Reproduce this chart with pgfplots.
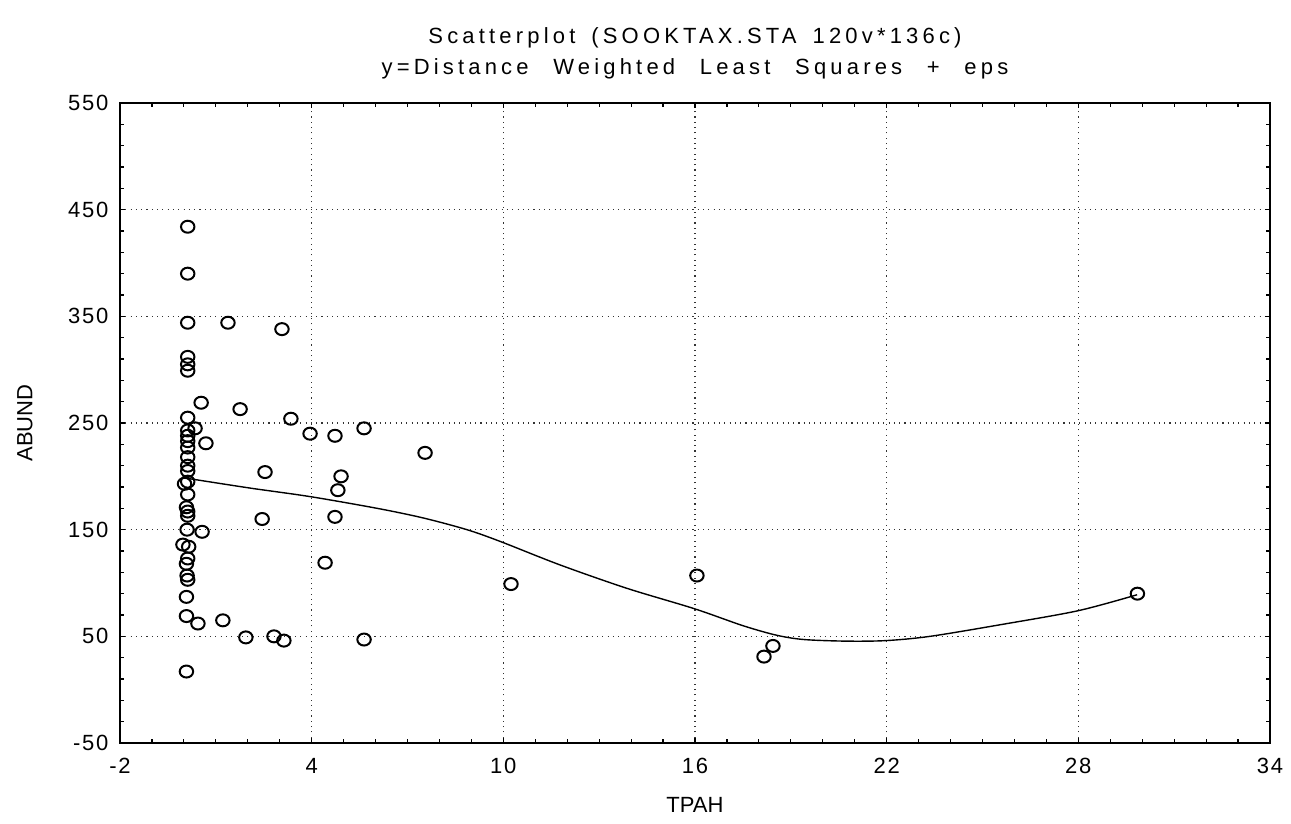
\documentclass[border=0pt]{standalone}
\usepackage{fontspec}
\setmainfont{Liberation Sans}
\newfontfamily\titlefont{Liberation Sans}[LetterSpace=19]
\newfontfamily\titlefontb{Liberation Sans}[LetterSpace=19, WordSpace=1.55]
\newfontfamily\tickfont{Liberation Sans}[LetterSpace=8]
\usepackage{pgfplots}
\pgfplotsset{compat=1.18}

\begin{document}
\begin{tikzpicture}
\begin{axis}[
  scale only axis,
  width=1150pt, height=640pt,
  xmin=-2, xmax=34, ymin=-50, ymax=550,
  xtick={-2,4,10,16,22,28,34},
  xticklabels={-2,4,10,16,22,28,34},
  ytick={-50,50,150,250,350,450,550},
  yticklabels={-50,50,150,250,350,450,550},
  minor x tick num=5,
  minor y tick num=4,
  tick align=inside,
  major tick length=5pt,
  minor tick length=4pt,
  tick style={black, line width=1.2pt},
  axis line style={black, line width=1.6pt},
  grid=major,
  major grid style={black!80, line width=1.1pt, dash pattern=on 1.1pt off 4.2pt},
  ticklabel style={font=\tickfont\fontsize{22}{26}\selectfont},
  yticklabel style={xshift=-8pt},
  xticklabel style={yshift=-12pt},
  xlabel={TPAH},
  ylabel={ABUND},
  label style={font=\fontsize{22}{26}\selectfont},
  xlabel style={at={(axis description cs:0.5,-0.0969)}, anchor=center},
  ylabel style={at={(axis description cs:-0.0826,0.5)}, anchor=center},
  clip=false,
]
% fitted distance weighted least squares curve
\addplot[black, line width=1.4pt, smooth, tension=0.5] coordinates {
 (0.13,198) (2.07,189) (3.95,181) (6.05,170) (7.49,161) (8.86,150)
 (9.90,139) (11.77,117) (13.87,95) (15.97,76) (17.50,60) (18.56,51)
 (19.41,47) (20.73,45.5) (21.98,46) (23.36,50) (25.58,61) (27.99,74)
 (29.84,89)
};
% observed cases
\addplot[only marks, mark=o, mark size=6pt,
  mark options={black, line width=2pt, xscale=1.12}] coordinates {
 (0.12,434) (0.12,390) (0.12,344) (0.12,312) (0.12,305) (0.12,299)
 (0.12,255) (0.12,243) (0.12,238) (0.12,233) (0.12,227) (0.12,218)
 (0.12,210) (0.12,205) (0.12,195) (0.02,193) (0.12,183) (0.08,171)
 (0.12,167) (0.12,163) (0.10,150) (-0.03,136) (0.15,134) (0.12,123)
 (0.08,118) (0.10,107) (0.12,103) (0.08,87) (0.08,69) (0.08,17)
 (1.38,344) (3.07,338) (0.54,269) (1.76,263) (3.35,254) (0.35,245)
 (0.69,231) (3.95,240) (4.73,238) (5.64,245) (7.55,222) (2.54,204)
 (4.92,200) (4.82,187) (2.45,160) (4.73,162) (4.42,119) (0.57,148)
 (10.24,99) (16.06,107) (18.16,31) (18.44,41) (29.85,90)
 (0.44,62) (1.22,65) (1.94,49) (2.82,50) (3.13,46) (5.64,47)
};
\node[font=\titlefont\fontsize{22}{26}\selectfont] at (rel axis cs:0.5,1) [yshift=65pt] {Scatterplot (SOOKTAX.STA 120v*136c)};
\node[font=\titlefontb\fontsize{22}{26}\selectfont] at (rel axis cs:0.5,1) [yshift=34pt] {y=Distance Weighted Least Squares + eps};
\end{axis}
\path[use as bounding box] (-120pt,-80pt) rectangle (1171pt,743pt);
\end{tikzpicture}
\end{document}
